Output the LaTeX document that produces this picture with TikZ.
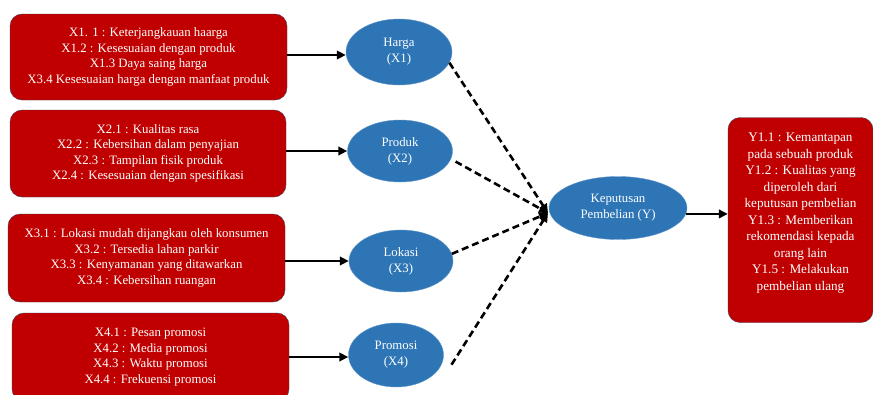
\documentclass[tikz,border=0pt]{standalone}
\usepackage{fontspec}
\setmainfont{Liberation Serif}
\usetikzlibrary{shapes.geometric,arrows.meta}
\definecolor{boxred}{HTML}{C00000}
\definecolor{ellblue}{HTML}{2E75B6}
\definecolor{boxedge}{HTML}{404058}
\begin{document}
\begin{tikzpicture}[x=1pt,y=-1pt,
    indbox/.style={draw=boxedge, fill=boxred, rounded corners=12pt, text=white, align=center,
        inner sep=0pt, font=\fontsize{12.8}{15.5}\selectfont},
    varell/.style={ellipse, draw=ellblue!75!white, fill=ellblue, text=white, align=center,
        inner sep=0pt, font=\fontsize{12.8}{16}\selectfont},
    solidarr/.style={-{Triangle[length=9pt,width=8.5pt]}, line width=2.6pt},
    dasharr/.style={solidarr, dash pattern=on 7pt off 4pt}]
    \clip (0,0) rectangle (873,394);
    % indikator
    \node[indbox, minimum width=277pt, minimum height=86pt] (b1) at (148.5,57)
        {X1. 1 : Keterjangkauan haarga\\X1.2 : Kesesuaian dengan produk\\X1.3 Daya saing harga\\X3.4 Kesesuaian harga dengan manfaat produk};
    \node[indbox, minimum width=276pt, minimum height=87pt] (b2) at (148,153.5)
        {X2.1 : Kualitas rasa\\X2.2 : Kebersihan dalam penyajian\\X2.3 : Tampilan fisik produk\\X2.4 : Kesesuaian dengan spesifikasi};
    \node[indbox, minimum width=277pt, minimum height=88pt] (b3) at (146.5,258)
        {X3.1 : Lokasi mudah dijangkau oleh konsumen\\X3.2 : Tersedia lahan parkir\\X3.3 : Kenyamanan yang ditawarkan\\X3.4 : Kebersihan ruangan};
    \node[indbox, minimum width=277pt, minimum height=88pt] (b4) at (150.5,357)
        {X4.1 : Pesan promosi\\X4.2 : Media promosi\\X4.3 : Waktu promosi\\X4.4 : Frekuensi promosi};
    \node[indbox, minimum width=145pt, minimum height=205pt, font=\fontsize{13.2}{16.5}\selectfont] (yb) at (800.5,220)
        {Y1.1 : Kemantapan\\pada sebuah produk\\Y1.2 : Kualitas yang\\diperoleh dari\\keputusan pembelian\\Y1.3 : Memberikan\\rekomendasi kepada\\orang lain\\Y1.5 : Melakukan\\pembelian ulang\\};
    % variabel
    \node[varell, minimum width=106pt, minimum height=66pt] (h) at (399,52) {Harga\\(X1)};
    \node[varell, minimum width=105pt, minimum height=62pt] (p) at (400,151) {Produk\\(X2)};
    \node[varell, minimum width=104pt, minimum height=62pt] (l) at (401,261) {Lokasi\\(X3)};
    \node[varell, minimum width=95pt, minimum height=64pt] (pr) at (396,355) {Promosi\\(X4)};
    \node[varell, minimum width=138pt, minimum height=63pt] (k) at (618,208) {Keputusan\\Pembelian (Y)};
    \coordinate (conv) at (548,213);
    % panah
    \draw[solidarr] (b1.east |- 0,55) -- (h.west |- 0,55);
    \draw[solidarr] (b2.east |- p.west) -- (p.west);
    \draw[solidarr] (b3.east |- l.west) -- (l.west);
    \draw[solidarr] (b4.east |- 0,357) -- (pr.west |- 0,357);
    \draw[dasharr] (h.-12) -- (conv);
    \draw[dasharr] ([xshift=6pt]p.-12) -- (conv);
    \draw[dasharr] (l.8) -- (conv);
    \draw[dasharr] ([xshift=10pt]pr.-12) -- (conv);
    \draw[solidarr] (k.-5) -- (k.-5 -| yb.west);
\end{tikzpicture}
\end{document}
